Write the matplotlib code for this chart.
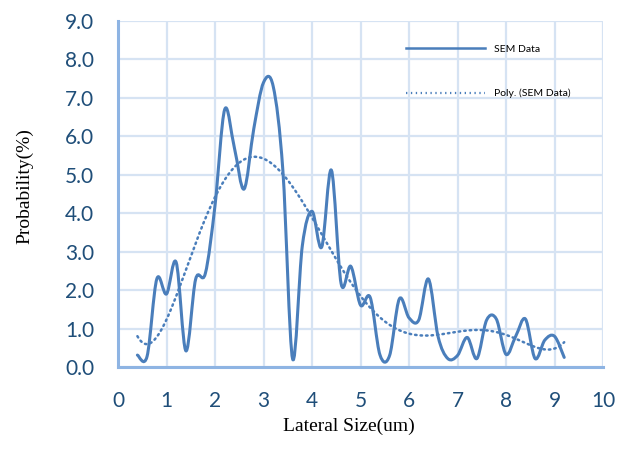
import numpy as np
import matplotlib
matplotlib.use("Agg")
import matplotlib.pyplot as plt
from matplotlib.path import Path
from matplotlib.patches import PathPatch
from matplotlib.lines import Line2D

# SEM particle size distribution
size_um = [0.4, 0.6, 0.8, 1.0, 1.2, 1.4, 1.6, 1.8, 2.0, 2.2,
           2.4, 2.6, 2.8, 3.0, 3.2, 3.4, 3.6, 3.8, 4.0, 4.2,
           4.4, 4.6, 4.8, 5.0, 5.2, 5.4, 5.6, 5.8, 6.0, 6.2,
           6.4, 6.6, 6.8, 7.0, 7.2, 7.4, 7.6, 7.8, 8.0, 8.2,
           8.4, 8.6, 8.8, 9.0, 9.2]
prob_pct = [0.31, 0.28, 2.29, 1.90, 2.72, 0.42, 2.28, 2.43, 4.20, 6.70,
            5.70, 4.63, 6.20, 7.40, 7.30, 5.10, 0.21, 3.15, 4.05, 3.12,
            5.12, 2.17, 2.62, 1.61, 1.81, 0.32, 0.30, 1.77, 1.28, 1.22,
            2.29, 0.79, 0.22, 0.30, 0.77, 0.22, 1.22, 1.25, 0.33, 0.80,
            1.25, 0.22, 0.70, 0.80, 0.25]
x_ticks = list(range(0, 11))
y_ticks = [i * 1.0 for i in range(0, 10)]

LINE_BLUE = "#4A7EBB"
GRID_BLUE = "#D6E3F3"
AXIS_BLUE = "#8EB4E3"
TICK_BLUE = "#1F4E79"


def smooth_path(xs, ys):
    """Cubic Bezier path through the points (spreadsheet-style smoothed line)."""
    pts = np.column_stack([xs, ys])
    n = len(pts)
    verts = [pts[0]]
    codes = [Path.MOVETO]
    for i in range(n - 1):
        p0 = pts[i - 1] if i > 0 else pts[i]
        p1 = pts[i]
        p2 = pts[i + 1]
        p3 = pts[i + 2] if i + 2 < n else pts[i + 1]
        c1 = p1 + (p2 - p0) / 6.0
        c2 = p2 - (p3 - p1) / 6.0
        verts += [c1, c2, p2]
        codes += [Path.CURVE4] * 3
    return Path(verts, codes)


fig = plt.figure(figsize=(6.28, 4.54), dpi=100)
ax = fig.add_axes([0.1879, 0.1916, 0.7723, 0.7621])

x = np.array(size_um)
y = np.array(prob_pct)

# measured distribution as a smoothed line
ax.add_patch(PathPatch(smooth_path(x, y), fill=False, edgecolor=LINE_BLUE,
                       lw=2.2, capstyle="round", joinstyle="round", zorder=3))

# 6th order polynomial trendline
coef = np.polyfit(x, y, 6)
xt = np.linspace(x.min(), x.max(), 400)
ax.plot(xt, np.polyval(coef, xt), color=LINE_BLUE, lw=1.8,
        linestyle=(0, (0.6, 1.6)), dash_capstyle="round", zorder=2)

ax.set_xlim(0, 10)
ax.set_ylim(0, 9)
ax.set_xticks(x_ticks)
ax.set_yticks(y_ticks)
ax.set_yticklabels([f"{v:.1f}" for v in y_ticks])
ax.grid(True, color=GRID_BLUE, lw=1.6)
ax.set_axisbelow(True)
for side in ("top", "right"):
    ax.spines[side].set_visible(False)
for side in ("left", "bottom"):
    ax.spines[side].set_color(AXIS_BLUE)
    ax.spines[side].set_linewidth(2.2)
ax.tick_params(length=0, pad=17, labelsize=15, labelcolor=TICK_BLUE)
for lbl in ax.get_xticklabels() + ax.get_yticklabels():
    lbl.set_family("Lato")

ax.set_xlabel("Lateral Size(um)", family="Liberation Serif", fontsize=14)
ax.set_ylabel("Probability(%)", family="Liberation Serif", fontsize=14)
ax.xaxis.set_label_coords(0.477, -0.171)
ax.xaxis.label.set_verticalalignment("center")
ax.yaxis.set_label_coords(-0.192, 0.523)
ax.yaxis.label.set_verticalalignment("center")

handles = [Line2D([], [], color=LINE_BLUE, lw=1.8),
           Line2D([], [], color=LINE_BLUE, lw=1.6, linestyle=(0, (0.6, 1.6)))]
ax.legend(handles, ["SEM Data", "Poly. (SEM Data)"], loc="upper left",
          bbox_to_anchor=(0.575, 0.96), frameon=False,
          handlelength=7.6, labelspacing=3.4, handletextpad=0.85,
          prop={"family": "Lato", "size": 7.5})

fig.savefig("out.png", dpi=100, facecolor="white")
